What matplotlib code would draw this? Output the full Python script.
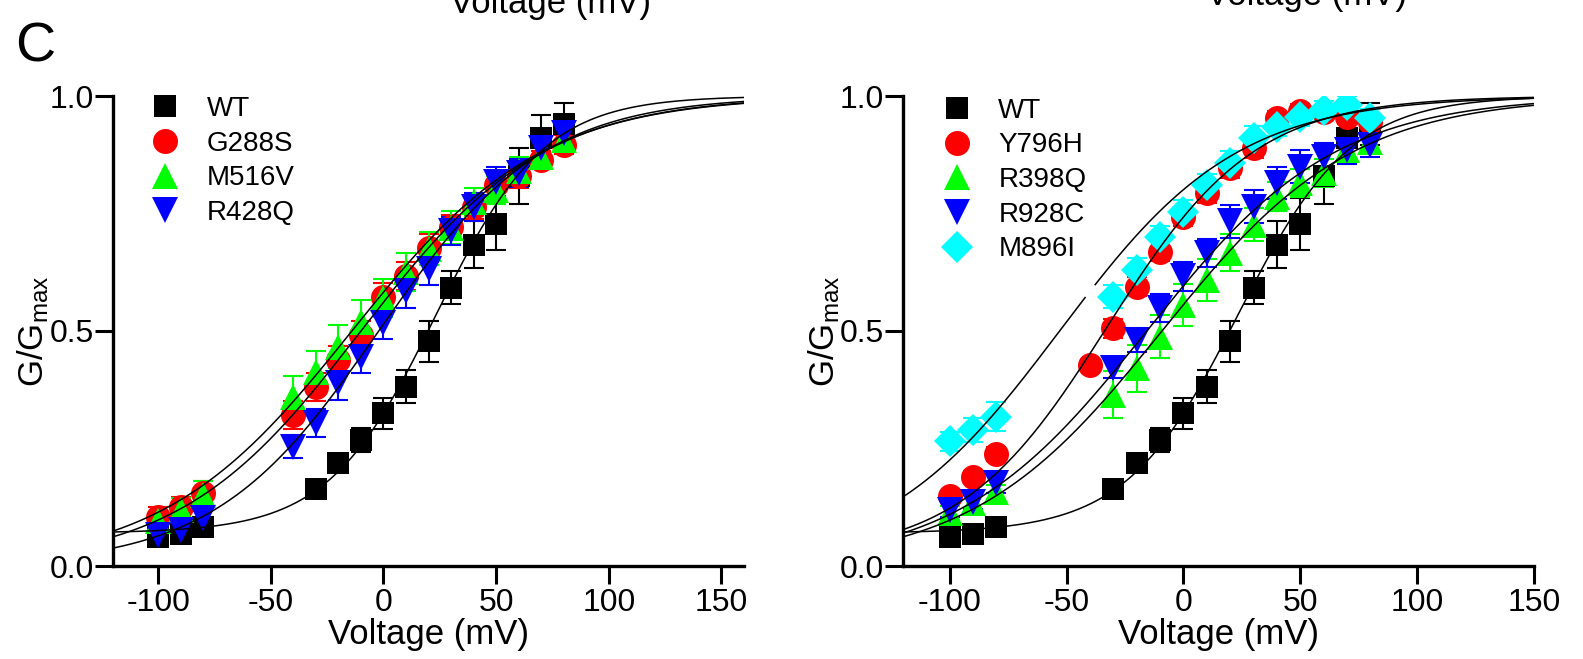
import numpy as np
import matplotlib
matplotlib.use('Agg')
import matplotlib.pyplot as plt
from matplotlib.lines import Line2D

plt.rcParams['font.family'] = ['Liberation Sans', 'DejaVu Sans']
plt.rcParams['mathtext.fontset'] = 'custom'
plt.rcParams['mathtext.rm'] = 'Liberation Sans'

# ---------------- data ----------------
v_wt = [-100, -90, -80, -30, -20, -10, 0, 10, 20, 30, 40, 50, 60, 70, 80]
g_wt = [0.062, 0.068, 0.083, 0.163, 0.219, 0.268, 0.325, 0.381, 0.478, 0.592, 0.683, 0.728, 0.830, 0.910, 0.940]
e_wt = [0.005, 0.005, 0.008, 0.010, 0.018, 0.025, 0.033, 0.035, 0.044, 0.035, 0.050, 0.055, 0.060, 0.050, 0.045]

v_left = [-100, -90, -80, -40, -30, -20, -10, 0, 10, 20, 30, 40, 50, 60, 70, 80]
g_g288s = [0.105, 0.126, 0.155, 0.321, 0.381, 0.438, 0.491, 0.572, 0.617, 0.677, 0.722, 0.764, 0.810, 0.830, 0.864, 0.896]
e_g288s = [0.020, 0.020, 0.025, 0.030, 0.030, 0.030, 0.030, 0.030, 0.030, 0.030, 0.025, 0.025, 0.025, 0.025, 0.020, 0.020]
g_m516v = [0.095, 0.119, 0.151, 0.360, 0.413, 0.467, 0.520, 0.570, 0.625, 0.675, 0.720, 0.775, 0.800, 0.840, 0.871, 0.906]
e_m516v = [0.020, 0.025, 0.030, 0.045, 0.045, 0.045, 0.045, 0.040, 0.040, 0.035, 0.035, 0.030, 0.030, 0.030, 0.025, 0.025]
g_r428q = [0.066, 0.077, 0.102, 0.254, 0.304, 0.389, 0.445, 0.517, 0.585, 0.632, 0.712, 0.764, 0.818, 0.836, 0.889, 0.922]
e_r428q = [0.010, 0.012, 0.015, 0.025, 0.030, 0.035, 0.035, 0.035, 0.035, 0.035, 0.030, 0.030, 0.030, 0.030, 0.025, 0.025]

v_y796h = [-100, -90, -80, -40, -30, -20, -10, 0, 10, 20, 30, 40, 50, 60, 70, 80]
g_y796h = [0.150, 0.190, 0.238, 0.428, 0.506, 0.594, 0.669, 0.743, 0.793, 0.846, 0.889, 0.953, 0.968, 0.965, 0.956, 0.945]
e_y796h = [0.010, 0.012, 0.015, 0.012, 0.020, 0.020, 0.020, 0.020, 0.020, 0.020, 0.020, 0.015, 0.015, 0.015, 0.015, 0.015]
v_right = [-100, -90, -80, -30, -20, -10, 0, 10, 20, 30, 40, 50, 60, 70, 80]
g_r398q = [0.112, 0.134, 0.158, 0.364, 0.421, 0.488, 0.555, 0.608, 0.667, 0.726, 0.786, 0.815, 0.836, 0.885, 0.903]
e_r398q = [0.015, 0.015, 0.015, 0.050, 0.050, 0.045, 0.045, 0.045, 0.040, 0.035, 0.030, 0.030, 0.030, 0.025, 0.025]
g_r928c = [0.119, 0.137, 0.176, 0.421, 0.481, 0.549, 0.616, 0.666, 0.733, 0.764, 0.815, 0.850, 0.871, 0.885, 0.896]
e_r928c = [0.015, 0.015, 0.020, 0.020, 0.025, 0.030, 0.030, 0.030, 0.035, 0.035, 0.035, 0.035, 0.030, 0.030, 0.025]
g_m896i = [0.265, 0.289, 0.318, 0.573, 0.630, 0.699, 0.754, 0.810, 0.858, 0.911, 0.935, 0.956, 0.970, 0.981, 0.953]
e_m896i = [0.020, 0.025, 0.030, 0.025, 0.025, 0.025, 0.025, 0.025, 0.025, 0.025, 0.020, 0.020, 0.020, 0.020, 0.020]

# Boltzmann fit parameters: (V1/2, slope k, bottom)
fit_left_names = ['WT', 'G288S', 'M516V', 'R428Q']
fit_left_vhalf = [23.4, -10.0, -14.0, -2.1]
fit_left_k = [24.0, 40.5, 42.0, 36.5]
fit_left_bottom = [0.07, 0.0, 0.0, 0.0]

fit_right_names = ['WT', 'Y796H', 'R398Q', 'R928C', 'M896I']
fit_right_vhalf = [23.4, -32.5, -9.2, -15.7, -53.0]
fit_right_k = [24.0, 31.5, 40.8, 40.3, 38.1]
fit_right_bottom = [0.07, 0.02, 0.0, 0.0, 0.0]

x_ticks = [-100, -50, 0, 50, 100, 150]
y_ticks = [0.0, 0.5, 1.0]
y_ticklabels = ['0.0', '0.5', '1.0']

# ---------------- figure ----------------
fig = plt.figure(figsize=(15.83, 6.59), dpi=100)
axL = fig.add_axes([113 / 1583, 1 - 566 / 659, 631 / 1583, 470 / 659])
axR = fig.add_axes([903 / 1583, 1 - 566 / 659, 631 / 1583, 470 / 659])

RED = '#FF0000'
GREEN = '#00FF00'
BLUE = '#0000FF'
CYAN = '#00FFFF'


def series(ax, v, g, e, marker, color, ms, label):
    cont = ax.errorbar(v, g, yerr=e, fmt=marker, color=color, ecolor=color,
                       markersize=ms, markeredgewidth=0, elinewidth=1.5,
                       capsize=7, capthick=1.5, label=label, zorder=3)
    for cap in cont[1]:
        cap.set_markeredgewidth(1.5)
        cap.set_markersize(14)


def boltz(v, vh, k, b):
    return b + (1 - b) / (1 + np.exp(-(v - vh) / k))


def style(ax, xlim, ylabelpad):
    ax.set_xlim(*xlim)
    ax.set_ylim(0, 1.0)
    for s in ['top', 'right']:
        ax.spines[s].set_visible(False)
    for s in ['left', 'bottom']:
        ax.spines[s].set_linewidth(2.4)
    ax.set_xticks(x_ticks)
    ax.set_xticklabels([str(t) for t in x_ticks])
    ax.set_yticks(y_ticks)
    ax.set_yticklabels(y_ticklabels)
    ax.tick_params(axis='both', direction='out', length=13, width=2.2, labelsize=23)
    ax.tick_params(axis='x', pad=3)
    ax.tick_params(axis='y', pad=1)
    ax.set_xlabel('Voltage (mV)', fontsize=25, labelpad=0)
    ax.set_ylabel(r'G/G$\mathregular{_{max}}$', fontsize=25, labelpad=ylabelpad)


# Left panel
series(axL, v_wt, g_wt, e_wt, 's', 'black', 16, 'WT')
series(axL, v_left, g_g288s, e_g288s, 'o', RED, 18, 'G288S')
series(axL, v_left, g_m516v, e_m516v, '^', GREEN, 19, 'M516V')
series(axL, v_left, g_r428q, e_r428q, 'v', BLUE, 19, 'R428Q')
xlimL = (-120, 160)
vv = np.linspace(xlimL[0], xlimL[1], 500)
for vh, k, b in zip(fit_left_vhalf, fit_left_k, fit_left_bottom):
    axL.plot(vv, boltz(vv, vh, k, b), color='black', lw=1.1, zorder=4)
style(axL, xlimL, -1)

# Right panel
series(axR, v_wt, g_wt, e_wt, 's', 'black', 16, 'WT')
series(axR, v_y796h, g_y796h, e_y796h, 'o', RED, 18, 'Y796H')
series(axR, v_right, g_r398q, e_r398q, '^', GREEN, 19, 'R398Q')
series(axR, v_right, g_r928c, e_r928c, 'v', BLUE, 19, 'R928C')
series(axR, v_right, g_m896i, e_m896i, 'D', CYAN, 16.5, 'M896I')
xlimR = (-120, 150)
vv = np.linspace(xlimR[0], xlimR[1], 500)
for name, vh, k, b in zip(fit_right_names, fit_right_vhalf, fit_right_k, fit_right_bottom):
    yy = boltz(vv, vh, k, b)
    if name == 'M896I':
        # the fitted curve is drawn with a small break near -40 mV
        m1 = vv < -42
        m2 = vv > -38
        axR.plot(vv[m1], yy[m1], color='black', lw=1.1, zorder=4)
        axR.plot(vv[m2], yy[m2], color='black', lw=1.1, zorder=4)
    else:
        axR.plot(vv, yy, color='black', lw=1.1, zorder=4)
style(axR, xlimR, -2)


def legend(ax, entries, anchor):
    handles = [Line2D([], [], marker=m, color=c, linestyle='None', markersize=ms,
                      markeredgewidth=0) for (m, c, ms, _) in entries]
    labels = [lab for (_, _, _, lab) in entries]
    ax.legend(handles, labels, loc='upper left', bbox_to_anchor=anchor,
              frameon=False, fontsize=20, handlelength=1.0, handletextpad=1.0,
              labelspacing=0.31, borderaxespad=0, borderpad=0)


legend(axL, [('s', 'black', 16, 'WT'), ('o', RED, 18, 'G288S'),
             ('^', GREEN, 19, 'M516V'), ('v', BLUE, 19, 'R428Q')], (0.06, 1.0))
legend(axR, [('s', 'black', 16, 'WT'), ('o', RED, 18, 'Y796H'),
             ('^', GREEN, 19, 'R398Q'), ('v', BLUE, 19, 'R928C'),
             ('D', CYAN, 16.5, 'M896I')], (0.063, 0.996))

# panel letter and cut-off labels from the panels above (cut off in the original too)
fig.text(15 / 1583, 1 - 22 / 659, 'C', fontsize=40, ha='left', va='top')
fig.text(551 / 1583, 1 - 13 / 659, 'Voltage (mV)', fontsize=25, ha='center', va='baseline')
fig.text(1307 / 1583, 1 - 5 / 659, 'Voltage (mV)', fontsize=25, ha='center', va='baseline')

fig.savefig('out.png', dpi=100)
